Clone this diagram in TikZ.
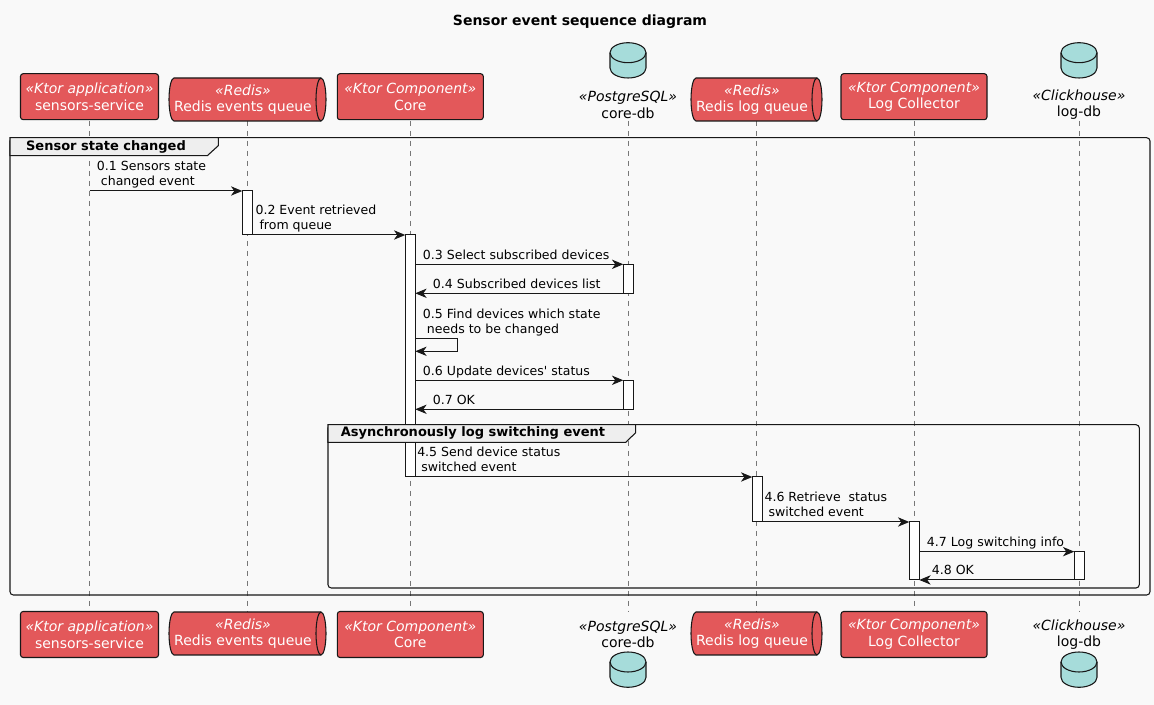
\documentclass[tikz,border=0pt]{standalone}
\usepackage{fontspec}
\setmainfont{DejaVu Sans}
\usetikzlibrary{arrows.meta}

\definecolor{bgcol}{HTML}{F9F9F9}
\definecolor{partred}{HTML}{E3585A}
\definecolor{dbteal}{HTML}{A6DCDA}
\definecolor{linecol}{HTML}{181818}
\definecolor{tabgray}{HTML}{EEEEEE}
\definecolor{lifecol}{HTML}{777777}

\newcommand{\pxu}{0.75pt}
\newcommand{\stereo}[1]{{\itshape «#1»}}

\tikzset{
  part/.style={rectangle, rounded corners=2pt, draw=linecol, fill=partred, text=white,
    line width=0.8pt, align=center, inner sep=0pt, outer sep=0pt,
    font=\fontsize{10.5}{12.5}\selectfont, minimum height=46*\pxu},
  plabel/.style={align=center, inner sep=0pt, font=\fontsize{10.5}{12.5}\selectfont},
  qtext/.style={plabel, text=white},
  queue/.style={draw=linecol, fill=partred, line width=0.8pt},
  dbcyl/.style={draw=linecol, fill=dbteal, line width=0.8pt},
  lifeline/.style={draw=lifecol, line width=0.6pt, dash pattern=on 3.75pt off 3.75pt},
  actbar/.style={rectangle, draw=linecol, fill=white, line width=0.75pt,
    minimum width=10*\pxu, inner sep=0pt, outer sep=0pt},
  msg/.style={->, draw=linecol, line width=0.75pt},
  msglabel/.style={anchor=south west, align=left, inner sep=0pt, text depth=2.25pt,
    font=\fontsize{9.4}{11.25}\selectfont},
  grp/.style={draw=linecol, line width=0.8pt, rounded corners=2.5pt},
  grptab/.style={draw=linecol, fill=tabgray, line width=0.8pt},
  grplabel/.style={inner sep=0pt, font=\fontsize{9.75}{11.25}\selectfont\bfseries},
  >={Stealth[length=8.5pt, width=7pt, inset=2.5pt]}
}

\begin{document}
\begin{tikzpicture}[x=\pxu, y=-\pxu]
\fill[bgcol] (0,0) rectangle (1154,705);
\useasboundingbox (0,0) rectangle (1154,705);

\node[font=\fontsize{10.5}{12.5}\selectfont\bfseries] (title) at (580,22) {Sensor event sequence diagram};

% lifelines
\foreach \x in {89.5,247.3,410.3,628,756.7,914,1079}
  \draw[lifeline] (\x,121) -- (\x,612);

% activations
\node[actbar, minimum height=44*\pxu] (act-req) at (247.3,213) {};
\node[actbar, minimum height=242*\pxu] (act-core) at (410.3,356) {};
\node[actbar, minimum height=29*\pxu] (act-cdb1) at (628.3,278.8) {};
\node[actbar, minimum height=29*\pxu] (act-cdb2) at (628.3,394.8) {};
\node[actbar, minimum height=45*\pxu] (act-rlq) at (757.3,499.5) {};
\node[actbar, minimum height=58*\pxu] (act-lc) at (914.3,551) {};
\node[actbar, minimum height=28.3*\pxu] (act-ldb) at (1079.3,565.8) {};

% messages
\coordinate (ss-m01) at (89.5,191);
\draw[msg] (ss-m01) -- (act-req.north west);
\node[msglabel] (m01) at (96.7,189) {0.1 Sensors state\\\ changed event};
\draw[msg] (act-req.south east) -- (act-core.north west);
\node[msglabel] (m02) at (255.3,233) {0.2 Event retrieved\\\ from queue};
\draw[msg] (act-core.east |- act-cdb1.north) -- (act-cdb1.north west);
\node[msglabel] (m03) at (422.7,262.3) {0.3 Select subscribed devices};
\draw[msg] (act-cdb1.south west) -- (act-core.east |- act-cdb1.south);
\node[msglabel] (m04) at (432.7,291.3) {0.4 Subscribed devices list};
\coordinate (loop-a) at (457.3,338.7);
\coordinate (loop-b) at (457.3,351.3);
\draw[msg] (act-core.east |- loop-a) -- (loop-a) -- (loop-b) -- (act-core.east |- loop-b);
\node[msglabel] (m05) at (422.7,336.7) {0.5 Find devices which state\\\ needs to be changed};
\draw[msg] (act-core.east |- act-cdb2.north) -- (act-cdb2.north west);
\node[msglabel] (m06) at (422.7,378.3) {0.6 Update devices\textquotesingle\ status};
\draw[msg] (act-cdb2.south west) -- (act-core.east |- act-cdb2.south);
\node[msglabel] (m07) at (432.7,407.3) {0.7 OK};

% groups
\draw[grp] (10,137.7) rectangle (1150,595);
\draw[grptab] (10,137.7) -- (218.3,137.7) -- (218.3,145.7) -- (207.3,155.7) -- (10,155.7) -- cycle;
\node[grplabel] (grp-sensor) at (106,146.7) {Sensor state changed};
\draw[grp] (328,424.7) rectangle (1139.3,588);
\draw[grptab] (328,424.7) -- (635.7,424.7) -- (635.7,432.7) -- (625.7,442.3) -- (328,442.3) -- cycle;
\node[grplabel] (grp-async) at (473,433.3) {Asynchronously log switching event};

\draw[msg] (act-core.south west) -- (act-rlq.north west);
\node[msglabel] (m45) at (417,475) {4.5 Send device status\\\ switched event};
\draw[msg] (act-rlq.south east) -- (act-lc.north west);
\node[msglabel] (m46) at (764.3,520) {4.6 Retrieve\ \ status\\\ switched event};
\draw[msg] (act-lc.east |- act-ldb.north) -- (act-ldb.north west);
\node[msglabel] (m47) at (926.7,549.7) {4.7 Log switching info};
\draw[msg] (act-ldb.south west) -- (act-lc.east |- act-ldb.south);
\node[msglabel] (m48) at (931.7,578) {4.8 OK};

% participants
\foreach \nm/\x/\w/\st/\txt in {ss/89.5/138/Ktor application/sensors-service,
    core/410.3/146/Ktor Component/Core, lc/914/146/Ktor Component/Log Collector}{
  \node[part, minimum width=\w*\pxu] (\nm-t) at (\x,96.7) {\stereo{\st}\\\txt};
  \node[part, minimum width=\w*\pxu] (\nm-b) at (\x,634.5) {\stereo{\st}\\\txt};
}
\foreach \nm/\xl/\xr/\txt in {req/169/326/Redis events queue, rlq/691/822/Redis log queue}{
  \foreach \pos/\yt in {t/78, b/612}{
    \draw[queue] (\xl+5,\yt) -- (\xr-5,\yt) arc(-90:90:5 and 21.5)
      -- (\xl+5,\yt+43) arc(90:270:5 and 21.5) -- cycle;
    \draw[queue, fill=none] (\xr-5,\yt) arc(-90:-270:5 and 21.5);
    \node[qtext] (\nm-\pos) at ({(\xl+\xr)/2-4.5},\yt+21.5) {\stereo{Redis}\\\txt};
  }
}
\foreach \nm/\x/\st/\txt in {cdb/628/PostgreSQL/core-db, ldb/1079/Clickhouse/log-db}{
  \foreach \pos/\yc/\yl in {t/52.7/104.7, b/662/634.5}{
    \draw[dbcyl] (\x-18,\yc) -- (\x-18,\yc+15.3) arc(180:0:18 and 10)
      -- (\x+18,\yc) arc(0:-180:18 and 10) -- cycle;
    \draw[dbcyl, fill=none] (\x-18,\yc) arc(180:0:18 and 10);
    \node[plabel] (\nm-\pos) at (\x,\yl) {\stereo{\st}\\\txt};
  }
}
\end{tikzpicture}
\end{document}
